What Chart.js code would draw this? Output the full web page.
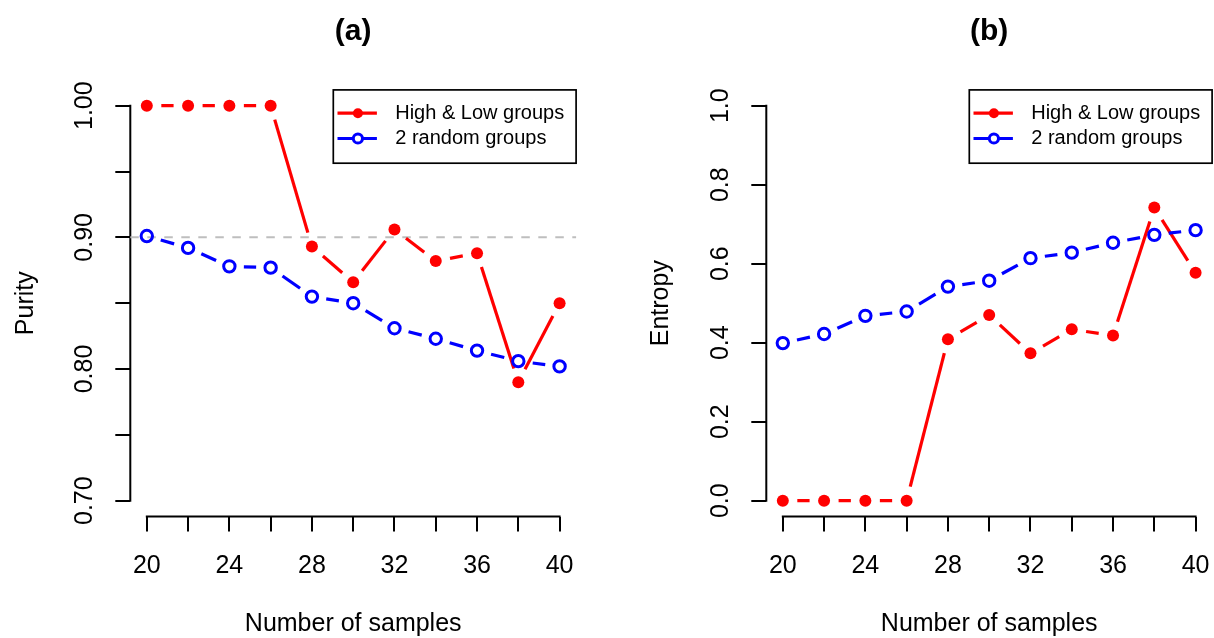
<!DOCTYPE html>
<html>
<head>
<meta charset="utf-8">
<script src="https://cdn.jsdelivr.net/npm/chart.js@4.4.0/dist/chart.umd.min.js"></script>
<style>
  html, body { margin: 0; padding: 0; background: #fff; overflow: hidden; width: 1214px; height: 638px; }
  canvas { position: absolute; top: 0; }
</style>
</head>
<body>
<canvas id="purityChart" width="607" height="638" style="left:0px"></canvas>
<canvas id="entropyChart" width="627" height="638" style="left:607px"></canvas>
<script>
// data
const sampleSizes = [20, 22, 24, 26, 28, 30, 32, 34, 36, 38, 40];
const sampleTickLabels = ['20', '', '24', '', '28', '', '32', '', '36', '', '40'];
const seriesNames = ['High & Low groups', '2 random groups'];

const purityHighLow = [1.000, 1.000, 1.000, 1.000, 0.893, 0.866, 0.906, 0.882, 0.888, 0.790, 0.850];
const purityRandom = [0.901, 0.892, 0.878, 0.877, 0.855, 0.850, 0.831, 0.823, 0.814, 0.806, 0.802];
const purityTicks = [0.70, 0.75, 0.80, 0.85, 0.90, 0.95, 1.00];
const purityTickLabels = ['0.70', '', '0.80', '', '0.90', '', '1.00'];
const purityRefLine = 0.90;

const entropyHighLow = [0, 0, 0, 0, 0.409, 0.470, 0.373, 0.434, 0.418, 0.742, 0.577];
const entropyRandom = [0.399, 0.422, 0.468, 0.479, 0.542, 0.557, 0.614, 0.628, 0.653, 0.673, 0.685];
const entropyTicks = [0.0, 0.2, 0.4, 0.6, 0.8, 1.0];
const entropyTickLabels = ['0.0', '0.2', '0.4', '0.6', '0.8', '1.0'];

const FONT = '"Liberation Sans", Arial, Helvetica, sans-serif';
const RED = '#FF0000';
const BLUE = '#0000FF';
const GAP = 14.5; // R type="b" leaves a gap round each point

// R pads the axis range by 4% on each side
function padRange(lo, hi) {
  const d = (hi - lo) * 0.04;
  return [lo - d, hi + d];
}

function gapDash(ctx) {
  const L = Math.hypot(ctx.p1.x - ctx.p0.x, ctx.p1.y - ctx.p0.y);
  if (!isFinite(L) || L <= 2 * GAP) return [0, Math.max(L || 1, 1)];
  return [0, GAP, L - 2 * GAP, GAP];
}

function toPoints(ys) {
  return sampleSizes.map((x, i) => ({ x: x, y: ys[i] }));
}

// axis lines only over the tick range, dashed ref line, boxed legend
const rStylePlugin = {
  id: 'rStyle',
  beforeDatasetsDraw(chart, args, opts) {
    const c = chart.ctx, ca = chart.chartArea;
    const xs = chart.scales.x, ys = chart.scales.y;
    c.save();
    c.strokeStyle = '#000';
    c.lineWidth = 2;
    c.beginPath();
    c.moveTo(xs.getPixelForValue(sampleSizes[0]) - 1, ca.bottom);
    c.lineTo(xs.getPixelForValue(sampleSizes[sampleSizes.length - 1]) + 1, ca.bottom);
    c.moveTo(ca.left, ys.getPixelForValue(opts.yTicks[0]) + 1);
    c.lineTo(ca.left, ys.getPixelForValue(opts.yTicks[opts.yTicks.length - 1]) - 1);
    c.stroke();
    if (opts.refLine != null) {
      const y = ys.getPixelForValue(opts.refLine);
      c.strokeStyle = '#BEBEBE';
      c.setLineDash([8.5, 8.5]);
      c.beginPath();
      c.moveTo(ca.left, y);
      c.lineTo(ca.right, y);
      c.stroke();
    }
    c.restore();
  },
  afterDraw(chart) {
    const c = chart.ctx, ca = chart.chartArea;
    const w = 242.8, h = 73.3;
    const bx = ca.right - w, by = ca.top;
    c.save();
    c.strokeStyle = '#000';
    c.lineWidth = 1.7;
    c.strokeRect(bx, by, w, h);
    const rows = [23.3, 48.6];
    chart.data.datasets.forEach((ds, i) => {
      const y = by + rows[i];
      c.strokeStyle = ds.borderColor;
      c.lineWidth = ds.borderWidth;
      c.beginPath();
      c.moveTo(bx + 4.2, y);
      c.lineTo(bx + 43.6, y);
      c.stroke();
      c.beginPath();
      if (ds.pointBorderWidth > 0) {
        c.arc(bx + 24.6, y, 4.6, 0, Math.PI * 2);
        c.fillStyle = '#fff';
        c.fill();
        c.lineWidth = ds.pointBorderWidth;
        c.strokeStyle = ds.pointBorderColor;
        c.stroke();
      } else {
        c.arc(bx + 24.6, y, 5, 0, Math.PI * 2);
        c.fillStyle = ds.pointBackgroundColor;
        c.fill();
      }
      c.fillStyle = '#000';
      c.font = '20px ' + FONT;
      c.textAlign = 'left';
      c.textBaseline = 'middle';
      c.fillText(ds.label, bx + 61.9, y);
    });
    c.restore();
  }
};

function makeChart(id, cfg) {
  const xr = padRange(sampleSizes[0], sampleSizes[sampleSizes.length - 1]);
  const yr = padRange(cfg.yTicks[0], cfg.yTicks[cfg.yTicks.length - 1]);
  const tickGrid = { drawOnChartArea: false, drawTicks: true, tickLength: 15, color: '#000', lineWidth: 2 };
  return new Chart(document.getElementById(id), {
    type: 'line',
    data: {
      datasets: [{
        label: seriesNames[0],
        data: toPoints(cfg.highLow),
        borderColor: RED,
        backgroundColor: RED,
        borderWidth: 3.2,
        pointRadius: 6,
        pointBorderWidth: 0,
        pointBackgroundColor: RED,
        pointBorderColor: RED,
        tension: 0,
        fill: false,
        order: 1,
        segment: { borderDash: gapDash }
      }, {
        label: seriesNames[1],
        data: toPoints(cfg.random),
        borderColor: BLUE,
        backgroundColor: BLUE,
        borderWidth: 3.2,
        pointRadius: 5.7,
        pointBorderWidth: 3,
        pointBackgroundColor: 'rgba(0,0,0,0)',
        pointBorderColor: BLUE,
        tension: 0,
        fill: false,
        order: 0,
        segment: { borderDash: gapDash }
      }]
    },
    options: {
      responsive: false,
      animation: false,
      events: [],
      layout: { padding: { left: 0, right: cfg.padRight, top: 0, bottom: 0 } },
      plugins: {
        legend: { display: false },
        tooltip: { enabled: false },
        title: {
          display: true,
          fullSize: false,
          text: cfg.title,
          color: '#000',
          font: { family: FONT, size: 30, weight: 'bold', lineHeight: 1 },
          padding: { top: 16.4, bottom: 43.5 }
        },
        rStyle: { yTicks: cfg.yTicks, refLine: cfg.refLine }
      },
      scales: {
        x: {
          type: 'linear',
          min: xr[0],
          max: xr[1],
          afterBuildTicks: s => { s.ticks = sampleSizes.map(v => ({ value: v })); },
          afterFit: s => { s.height = 121.5; },
          grid: tickGrid,
          border: { display: false },
          ticks: {
            autoSkip: false, minRotation: 0, maxRotation: 0, padding: 20, color: '#000',
            font: { family: FONT, size: 25, lineHeight: 1.2 },
            callback: (v, i) => sampleTickLabels[i]
          },
          title: {
            display: true, text: 'Number of samples', color: '#000',
            font: { family: FONT, size: 25, lineHeight: 1 },
            padding: { top: 0, bottom: 1.2 }
          }
        },
        y: {
          type: 'linear',
          min: yr[0],
          max: yr[1],
          afterBuildTicks: s => { s.ticks = cfg.yTicks.map(v => ({ value: v })); },
          afterFit: s => { s.width = cfg.yWidth; },
          grid: tickGrid,
          border: { display: false },
          ticks: {
            autoSkip: false, minRotation: 90, maxRotation: 90, crossAlign: 'center',
            padding: cfg.yPad, color: '#000',
            font: { family: FONT, size: 25, lineHeight: 1.2 },
            callback: (v, i) => cfg.yLabels[i]
          },
          title: {
            display: true, text: cfg.yTitle, color: '#000',
            font: { family: FONT, size: 25, lineHeight: 1.2 },
            padding: { top: cfg.yTitlePad, bottom: 0 }
          }
        }
      }
    },
    plugins: [rStylePlugin]
  });
}

makeChart('purityChart', {
  title: '(a)', yTitle: 'Purity',
  highLow: purityHighLow, random: purityRandom,
  yTicks: purityTicks, yLabels: purityTickLabels, refLine: purityRefLine,
  yWidth: 130.3, padRight: 30.9, yPad: 6, yTitlePad: 11
});

makeChart('entropyChart', {
  title: '(b)', yTitle: 'Entropy',
  highLow: entropyHighLow, random: entropyRandom,
  yTicks: entropyTicks, yLabels: entropyTickLabels, refLine: null,
  yWidth: 159.3, padRight: 21.9, yPad: 12.4, yTitlePad: 39
});
</script>
</body>
</html>
